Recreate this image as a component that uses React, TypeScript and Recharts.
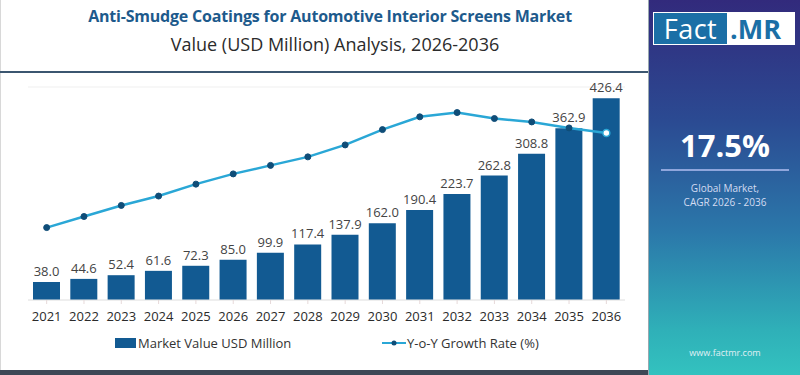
import React from 'react';
import { ComposedChart, Bar, Line, XAxis, YAxis, CartesianGrid, LabelList } from 'recharts';

const years = ['2021','2022','2023','2024','2025','2026','2027','2028','2029','2030','2031','2032','2033','2034','2035','2036'];
const marketValue = [38.0, 44.6, 52.4, 61.6, 72.3, 85.0, 99.9, 117.4, 137.9, 162.0, 190.4, 223.7, 262.8, 308.8, 362.9, 426.4];
const growthRate = [8.5, 9.8, 11.1, 12.2, 13.6, 14.8, 15.8, 16.8, 18.2, 20.0, 21.5, 22.0, 21.3, 20.9, 20.2, 19.6];

const data = years.map((y, i) => ({ year: y, value: marketValue[i], growth: growthRate[i] }));

const FONT = '"Open Sans", "Noto Sans", sans-serif';
const BAR_COLOR = '#125a92';
const LINE_COLOR = '#2aa7d6';

const GrowthDot = (props: any) => {
  const { cx, cy, index } = props;
  if (cx == null || cy == null) return null;
  const last = index === years.length - 1;
  return (
    <circle
      key={`d${index}`}
      cx={cx}
      cy={cy}
      r={last ? 3.5 : 3}
      fill={last ? '#ffffff' : '#0f4d78'}
      stroke={last ? LINE_COLOR : '#0f4d78'}
      strokeWidth={last ? 1.5 : 1}
    />
  );
};

export default function App() {
  return (
    <div style={{ position: 'absolute', left: 0, top: 0, width: 800, height: 375, background: '#fff', overflow: 'hidden', fontFamily: FONT }}>
      <div style={{ position: 'absolute', left: 0, top: 0, width: 1, height: 375, background: '#d8d8d8' }} />
      <div style={{ position: 'absolute', left: 0, top: 5, width: 648, textAlign: 'center', paddingLeft: 12, boxSizing: 'border-box', fontSize: 16, fontWeight: 700, color: '#1d5a8c', letterSpacing: -0.2 }}>
        Anti-Smudge Coatings for Automotive Interior Screens Market
      </div>
      <div style={{ position: 'absolute', left: 0, top: 32, width: 648, textAlign: 'center', paddingLeft: 22, boxSizing: 'border-box', fontSize: 18, color: '#2b2b2b' }}>
        Value (USD Million) Analysis, 2026-2036
      </div>
      <div style={{ position: 'absolute', left: 0, top: 71, width: 648, height: 2, background: '#3b5670' }} />

      <div style={{ position: 'absolute', left: 0, top: 0 }}>
        <ComposedChart width={648} height={375} data={data} margin={{ top: 87, right: 23, bottom: 45, left: 28 }}>
          <CartesianGrid vertical={false} stroke="#efefef" />
          <XAxis
            dataKey="year"
            height={30}
            tickLine={{ stroke: '#e6d9d9' }}
            axisLine={{ stroke: '#e6e6e6' }}
            tick={{ fill: '#2b2b2b', fontSize: 13, fontFamily: FONT }}
            tickSize={4}
            tickMargin={8}
            interval={0}
          />
          <YAxis yAxisId="left" hide domain={[0, 450]} ticks={[0, 50, 100, 150, 200, 250, 300, 350, 400, 450]} />
          <YAxis yAxisId="right" orientation="right" hide domain={[0, 25]} />
          <Bar yAxisId="left" dataKey="value" fill={BAR_COLOR} barSize={27} isAnimationActive={false}>
            <LabelList dataKey="value" position="top" offset={6} formatter={(v: any) => Number(v).toFixed(1)} style={{ fill: '#444', fontSize: 13, fontFamily: FONT }} />
          </Bar>
          <Line yAxisId="right" type="linear" dataKey="growth" stroke={LINE_COLOR} strokeWidth={2.5} dot={GrowthDot} activeDot={false} isAnimationActive={false} />
        </ComposedChart>
      </div>

      <div style={{ position: 'absolute', left: 0, top: 334, width: 648, height: 20, fontSize: 13, color: '#333' }}>
        <div style={{ position: 'absolute', left: 115, top: 4, width: 21, height: 10, background: BAR_COLOR }} />
        <div style={{ position: 'absolute', left: 138, top: 0 }}>Market Value USD Million</div>
        <svg style={{ position: 'absolute', left: 382, top: 3 }} width={24} height={12}>
          <line x1={0} y1={6} x2={24} y2={6} stroke={LINE_COLOR} strokeWidth={2} />
          <circle cx={12} cy={6} r={2.5} fill="#0f4d78" />
        </svg>
        <div style={{ position: 'absolute', left: 407, top: 0 }}>Y-o-Y Growth Rate (%)</div>
      </div>

      <div style={{ position: 'absolute', left: 0, top: 370, width: 648, height: 5, background: '#3d4856' }} />

      <div style={{ position: 'absolute', left: 648, top: 0, width: 152, height: 375, background: 'linear-gradient(180deg, #322a7c 0%, #2b4a92 32%, #2b78aa 62%, #2fb0b8 88%, #33c2bf 100%)', borderLeft: '1px solid #99a8b0', boxSizing: 'border-box' }}>
        <div style={{ position: 'absolute', left: 4, top: 12, width: 142, height: 33, background: '#fff' }}>
          <div style={{ position: 'absolute', left: 1, top: 1, width: 73, height: 31, background: '#1b6fa6', color: '#fff', fontSize: 27, lineHeight: '31px', textAlign: 'center', letterSpacing: 0.5 }}>Fact</div>
          <div style={{ position: 'absolute', left: 77, top: 1, height: 31, color: '#1b6fa6', fontSize: 27, lineHeight: '31px', fontWeight: 700 }}>.MR</div>
        </div>
        <div style={{ position: 'absolute', left: 0, top: 124, width: 152, textAlign: 'center', color: '#fff', fontSize: 31, fontWeight: 700 }}>17.5%</div>
        <div style={{ position: 'absolute', left: 12, top: 169, width: 128, height: 2, background: '#8fa6dc' }} />
        <div style={{ position: 'absolute', left: 0, top: 181, width: 152, textAlign: 'center', color: '#d4dcf2', fontSize: 10, lineHeight: '14px' }}>
          Global Market,<br />CAGR 2026 - 2036
        </div>
        <div style={{ position: 'absolute', left: 0, top: 346, width: 152, textAlign: 'center', color: '#e0f0f4', fontSize: 9 }}>www.factmr.com</div>
      </div>
    </div>
  );
}
